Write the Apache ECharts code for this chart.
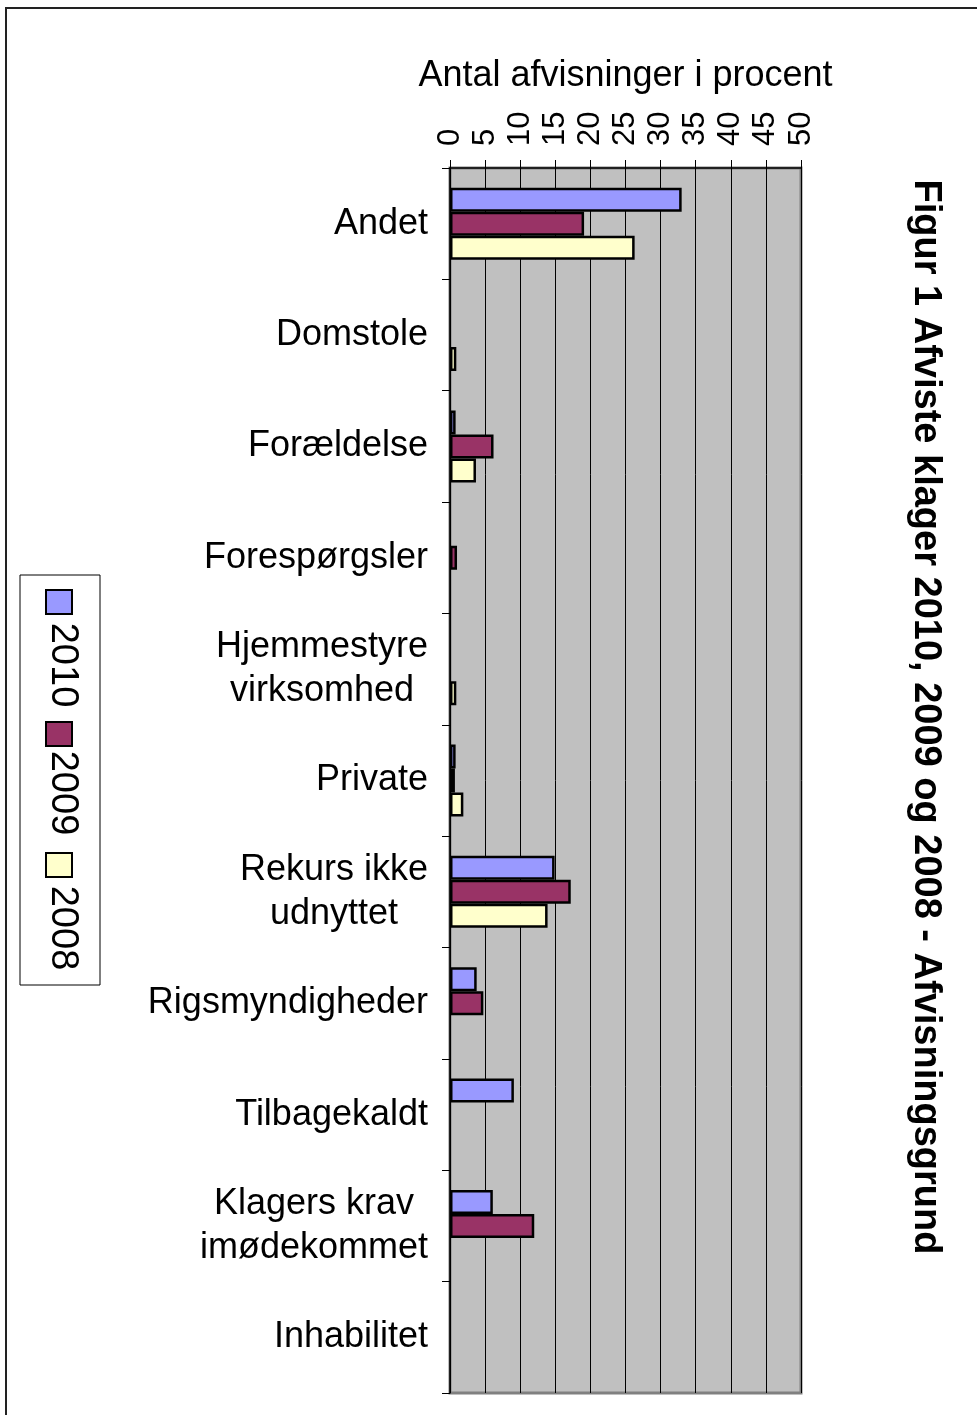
<!DOCTYPE html>
<html>
<head>
<meta charset="utf-8">
<script src="https://cdn.jsdelivr.net/npm/echarts@6/dist/echarts.min.js"></script>
<style>
  html, body { margin: 0; padding: 0; background: #fff; }
  #chart { width: 977px; height: 1415px; }
</style>
</head>
<body>
<div id="chart"></div>
<script>
// data
const categories = [
  "Andet",
  "Domstole",
  "Forældelse",
  "Forespørgsler",
  "Hjemmestyre\nvirksomhed",
  "Private",
  "Rekurs ikke\nudnyttet",
  "Rigsmyndigheder",
  "Tilbagekaldt",
  "Klagers krav\nimødekommet",
  "Inhabilitet",
];
const years = ["2010", "2009", "2008"];
const values2010 = [33.0, null, 0.8, null, null, 0.8, 14.9, 3.8, 9.1, 6.1, null];
const values2009 = [19.1, null, 6.2, 1.0, null, 0.7, 17.2, 4.75, null, 12.0, null];
const values2008 = [26.3, 0.9, 3.7, null, 0.9, 1.9, 13.9, null, null, null, null];
const colors = ["#9999FF", "#993366", "#FFFFCC"];

const titleText = "Figur 1 Afviste klager 2010, 2009 og 2008 - Afvisningsgrund";
const axisName = "Antal afvisninger i procent";

const font = "'Liberation Sans', Arial, sans-serif";

const chart = echarts.init(document.getElementById("chart"));

const seriesValues = [values2010, values2009, values2008];

// legend is drawn by hand because the text is turned 90 degrees
const legendSquareY = [590, 722, 853];
const legendTextY = [665, 793, 928];
const legendItems = [];
years.forEach((year, i) => {
  legendItems.push({
    type: "rect",
    shape: { x: 46, y: legendSquareY[i], width: 26, height: 24 },
    style: { fill: colors[i], stroke: "#000", lineWidth: 2 },
  });
  legendItems.push({
    type: "text",
    x: 62,
    y: legendTextY[i],
    rotation: -Math.PI / 2,
    style: {
      text: year,
      fontSize: 38,
      fontFamily: font,
      fill: "#000",
      align: "center",
      verticalAlign: "middle",
    },
  });
});

const option = {
  animation: false,
  backgroundColor: "#fff",
  textStyle: { fontFamily: font, color: "#000" },
  grid: {
    left: 450,
    right: 176,
    top: 168,
    bottom: 22,
    show: true,
    backgroundColor: "#C0C0C0",
    borderColor: "#808080",
    borderWidth: 3,
  },
  xAxis: {
    type: "value",
    position: "top",
    min: 0,
    max: 50,
    interval: 5,
    name: axisName,
    nameLocation: "middle",
    nameGap: 74,
    nameTextStyle: { fontSize: 36, color: "#000", fontFamily: font },
    axisLine: { show: true, lineStyle: { color: "#000", width: 1.5 } },
    axisTick: { show: true, length: 8, lineStyle: { color: "#000" } },
    axisLabel: {
      rotate: -90,
      margin: 22,
      fontSize: 31,
      color: "#000",
      fontFamily: font,
    },
    splitLine: { show: true, lineStyle: { color: "#000", width: 1 } },
  },
  yAxis: {
    type: "category",
    inverse: true,
    data: categories,
    axisLine: { show: true, lineStyle: { color: "#000", width: 1.5 } },
    axisTick: { show: true, length: 8, lineStyle: { color: "#000" } },
    axisLabel: {
      margin: 22,
      color: "#000",
      fontFamily: font,
      fontSize: 36,
      lineHeight: 44,
      formatter: (v) => v.split("\n").map((s) => "{c|" + s + "}").join("\n"),
      rich: {
        c: { align: "center", fontSize: 36, lineHeight: 44, fontFamily: font, color: "#000" },
      },
    },
    splitLine: { show: false },
  },
  series: years.map((year, i) => ({
    name: year,
    type: "bar",
    data: seriesValues[i],
    barWidth: 24,
    barGap: "0%",
    itemStyle: { color: colors[i], borderColor: "#000", borderWidth: 2.5 },
  })),
  graphic: [
    {
      type: "rect",
      shape: { x: 6, y: 8, width: 1000, height: 1440 },
      style: { fill: "none", stroke: "#222", lineWidth: 2 },
      z: -1,
    },
    {
      type: "rect",
      shape: { x: 20, y: 575, width: 80, height: 410 },
      style: { fill: "#fff", stroke: "#000", lineWidth: 1 },
    },
    ...legendItems,
    {
      type: "text",
      x: 925,
      y: 717,
      rotation: -Math.PI / 2,
      style: {
        text: titleText,
        fontSize: 38,
        fontWeight: "bold",
        fontFamily: font,
        fill: "#000",
        align: "center",
        verticalAlign: "middle",
      },
    },
  ],
};

chart.setOption(option);
</script>
</body>
</html>
